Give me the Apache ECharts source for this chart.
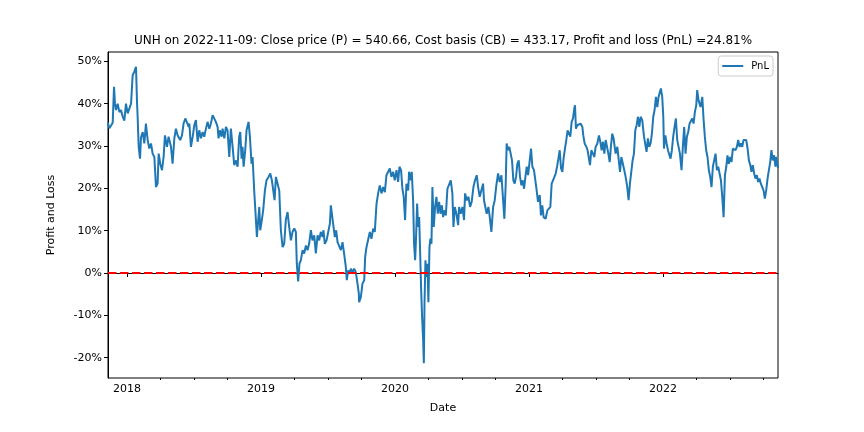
<!DOCTYPE html>
<html>
<head>
<meta charset="utf-8">
<script src="https://cdn.jsdelivr.net/npm/echarts@6/dist/echarts.min.js"></script>
<style>html,body{margin:0;padding:0;background:#fff}#c{width:864px;height:432px}</style>
</head>
<body>
<div id="c"></div>
<script>
// [decimal year, PnL %]
const seg1 = [[2017.856,35.6],[2017.868,34.2],[2017.880,34.8],[2017.893,35.5],[2017.903,44.0],[2017.910,40.0],[2017.918,38.5],[2017.930,40.0],[2017.943,38.0],[2017.955,38.5],[2017.967,37.0],[2017.980,36.0],[2017.992,40.0],[2018.005,37.7],[2018.017,38.0],[2018.030,40.0],[2018.042,46.7],[2018.054,47.5],[2018.067,48.7],[2018.074,40.8],[2018.079,37.0],[2018.087,29.8],[2018.097,27.0],[2018.104,32.0],[2018.117,33.3],[2018.129,30.6],[2018.141,35.3],[2018.154,31.4],[2018.166,29.4],[2018.179,30.6],[2018.191,28.2],[2018.204,27.4],[2018.216,20.3],[2018.228,21.1],[2018.236,28.2],[2018.248,25.8],[2018.261,24.3],[2018.273,27.4],[2018.283,32.5],[2018.298,29.8],[2018.310,32.2],[2018.328,29.8],[2018.340,25.8],[2018.353,31.8],[2018.365,34.1],[2018.378,32.5],[2018.397,31.4],[2018.410,32.5],[2018.422,35.3],[2018.435,36.5],[2018.447,36.1],[2018.460,34.5]];
const seg2 = [[2018.465,35.3],[2018.477,29.8],[2018.490,32.2],[2018.502,34.9],[2018.514,36.1],[2018.527,31.0],[2018.539,33.7],[2018.552,31.8],[2018.564,33.3],[2018.576,32.2],[2018.589,34.1],[2018.601,35.7],[2018.614,34.1],[2018.626,35.3],[2018.639,37.3],[2018.651,37.3],[2018.663,35.7],[2018.676,34.5],[2018.683,31.8],[2018.693,33.7],[2018.706,32.2],[2018.713,34.1],[2018.726,31.8],[2018.738,34.5],[2018.750,33.7],[2018.763,27.4],[2018.775,34.1],[2018.788,29.8],[2018.800,25.5],[2018.813,26.6],[2018.825,25.1],[2018.837,32.2],[2018.845,33.3],[2018.855,27.0],[2018.862,29.8],[2018.870,25.1],[2018.882,29.0],[2018.892,33.7],[2018.907,35.7],[2018.917,32.2],[2018.929,25.8],[2018.937,27.4],[2018.949,19.5],[2018.962,12.5],[2018.969,8.5],[2018.979,12.5],[2018.987,15.6],[2018.994,10.1],[2019.006,12.5],[2019.016,14.8],[2019.029,19.5],[2019.041,21.9],[2019.056,22.7],[2019.069,23.5],[2019.081,21.9],[2019.091,22.3],[2019.101,17.2],[2019.111,22.7]];
const seg3 = [[2019.123,22.7],[2019.136,19.5],[2019.148,10.1],[2019.161,6.1],[2019.173,6.9],[2019.185,12.5],[2019.198,14.4],[2019.210,10.9],[2019.223,7.7],[2019.235,9.7],[2019.248,10.5],[2019.260,9.7],[2019.267,2.2],[2019.277,-2.0],[2019.287,2.2],[2019.297,3.0],[2019.310,5.4],[2019.322,4.6],[2019.335,6.5],[2019.347,5.4],[2019.359,6.9],[2019.372,10.1],[2019.384,7.7],[2019.397,8.9],[2019.409,4.6],[2019.422,8.9],[2019.434,7.7],[2019.446,9.7],[2019.459,8.5],[2019.466,10.1],[2019.476,6.9],[2019.489,7.7],[2019.501,7.3],[2019.514,11.7],[2019.521,16.0],[2019.531,15.6],[2019.541,10.9],[2019.551,8.5],[2019.561,10.1],[2019.571,7.3],[2019.583,7.7],[2019.596,5.4],[2019.608,7.3],[2019.620,4.6],[2019.633,1.4],[2019.640,-1.7],[2019.650,0.6],[2019.660,-0.2],[2019.670,1.0],[2019.683,0.2],[2019.695,1.0],[2019.707,0.2],[2019.720,-2.5],[2019.730,-4.9]];
const seg4 = [[2019.732,-6.9],[2019.745,-5.7],[2019.757,-2.5],[2019.770,-1.7],[2019.777,3.8],[2019.787,6.1],[2019.799,5.8],[2019.812,9.7],[2019.824,8.1],[2019.837,10.5],[2019.849,9.7],[2019.862,16.4],[2019.874,18.8],[2019.886,20.7],[2019.899,18.8],[2019.911,20.3],[2019.924,19.1],[2019.936,23.1],[2019.949,23.9],[2019.961,24.7],[2019.973,22.7],[2019.986,23.9],[2019.998,21.9],[2020.011,24.3],[2020.023,21.5],[2020.033,25.1],[2020.045,24.3],[2020.055,19.9],[2020.065,18.0],[2020.075,12.5],[2020.085,21.1],[2020.098,19.5],[2020.105,23.9],[2020.118,21.9],[2020.125,23.9],[2020.135,17.2],[2020.142,6.9],[2020.150,3.0],[2020.157,8.5],[2020.165,16.4],[2020.172,10.9],[2020.180,13.2],[2020.187,5.4],[2020.195,-4.1],[2020.202,-10.4],[2020.210,-15.9],[2020.215,-21.3],[2020.220,-7.2],[2020.227,3.0],[2020.234,-0.9],[2020.242,2.2],[2020.249,-6.9],[2020.257,6.1],[2020.264,8.1],[2020.272,6.9],[2020.279,20.3],[2020.289,10.9],[2020.299,15.6],[2020.309,18.0],[2020.319,14.0],[2020.329,16.8],[2020.339,14.0],[2020.349,16.0],[2020.359,13.2]];
const seg5 = [[2020.366,14.8],[2020.379,13.6],[2020.391,19.9],[2020.403,20.3],[2020.416,21.9],[2020.428,18.8],[2020.436,10.9],[2020.446,15.6],[2020.458,14.0],[2020.471,11.3],[2020.478,15.6],[2020.490,14.0],[2020.503,15.6],[2020.515,12.5],[2020.523,18.8],[2020.535,17.2],[2020.548,18.0],[2020.560,15.6],[2020.572,16.8],[2020.585,20.3],[2020.597,21.9],[2020.610,23.1],[2020.620,20.3],[2020.632,18.0],[2020.645,18.4],[2020.657,21.1],[2020.664,17.2],[2020.677,17.6],[2020.684,14.0],[2020.697,15.6],[2020.707,13.2],[2020.719,9.7],[2020.732,15.6],[2020.744,17.2],[2020.756,20.7],[2020.769,23.5],[2020.781,21.5],[2020.794,23.1],[2020.806,22.7],[2020.816,12.8],[2020.826,21.1],[2020.833,30.6],[2020.843,29.0],[2020.853,29.8],[2020.863,30.2],[2020.873,26.6],[2020.883,21.9],[2020.893,21.1],[2020.903,22.7],[2020.913,25.8],[2020.923,26.6],[2020.933,22.7],[2020.943,20.7],[2020.953,21.9],[2020.963,19.9],[2020.973,22.7],[2020.983,25.1],[2020.993,23.1]];
const seg6 = [[2021.005,22.7],[2021.015,29.4],[2021.025,25.1],[2021.037,24.3],[2021.050,24.7],[2021.057,19.5],[2021.067,16.8],[2021.080,18.4],[2021.089,13.6],[2021.099,16.0],[2021.109,13.2],[2021.124,12.8],[2021.137,14.8],[2021.149,15.2],[2021.159,15.6],[2021.169,21.1],[2021.179,21.9],[2021.189,21.5],[2021.199,23.5],[2021.209,25.1],[2021.219,27.0],[2021.229,29.0],[2021.239,24.7],[2021.249,23.9],[2021.259,27.4],[2021.268,27.4],[2021.278,31.4],[2021.288,33.7],[2021.298,33.3],[2021.308,32.2],[2021.318,35.7],[2021.328,36.5],[2021.338,38.9],[2021.343,39.6],[2021.350,34.1],[2021.360,34.9],[2021.373,34.5],[2021.385,35.3],[2021.398,34.5],[2021.405,32.5],[2021.415,30.6],[2021.428,29.8],[2021.437,29.0],[2021.447,28.6],[2021.455,25.5],[2021.465,29.0],[2021.477,28.2],[2021.487,27.4],[2021.497,29.8],[2021.510,30.6],[2021.522,32.5],[2021.532,31.0],[2021.542,29.0],[2021.552,31.0],[2021.562,28.2],[2021.572,31.4],[2021.582,31.0],[2021.592,28.2],[2021.602,26.2],[2021.611,29.8],[2021.621,32.9],[2021.631,31.8]];
const seg7 = [[2021.646,28.2],[2021.659,29.8],[2021.671,29.4],[2021.679,23.9],[2021.689,27.4],[2021.698,27.8],[2021.708,24.7],[2021.721,22.7],[2021.733,20.3],[2021.743,17.2],[2021.753,21.1],[2021.763,21.5],[2021.773,26.6],[2021.783,28.2],[2021.793,33.7],[2021.803,34.9],[2021.813,36.9],[2021.823,34.5],[2021.833,36.9],[2021.845,36.1],[2021.858,32.2],[2021.867,32.2],[2021.877,28.6],[2021.887,31.8],[2021.897,29.8],[2021.907,30.6],[2021.917,32.9],[2021.927,36.9],[2021.937,38.5],[2021.947,41.6],[2021.957,39.2],[2021.967,41.6],[2021.977,42.8],[2021.984,43.6],[2021.994,41.6],[2022.002,36.9],[2022.007,29.4],[2022.017,32.5],[2022.027,30.6],[2022.037,29.0],[2022.046,29.4],[2022.056,27.0],[2022.066,29.0],[2022.076,32.2],[2022.086,34.5],[2022.096,36.5],[2022.106,31.4],[2022.116,29.8],[2022.126,28.2],[2022.138,24.3],[2022.148,29.8],[2022.158,34.5],[2022.168,28.2],[2022.178,32.2],[2022.188,33.3],[2022.198,35.3],[2022.208,34.9],[2022.218,36.5],[2022.228,35.3],[2022.238,38.1],[2022.248,39.6],[2022.255,43.2],[2022.265,40.8]];
const seg8 = [[2022.280,39.2],[2022.293,41.6],[2022.303,36.1],[2022.312,32.2],[2022.322,29.0],[2022.332,27.4],[2022.342,24.3],[2022.352,22.7],[2022.362,20.3],[2022.372,25.1],[2022.382,24.7],[2022.392,28.2],[2022.402,24.3],[2022.412,25.1],[2022.422,25.1],[2022.432,21.9],[2022.442,18.0],[2022.452,13.2],[2022.462,23.1],[2022.472,25.1],[2022.481,27.8],[2022.491,25.8],[2022.501,27.4],[2022.511,26.2],[2022.521,29.4],[2022.531,29.8],[2022.541,29.0],[2022.551,29.8],[2022.561,31.4],[2022.571,29.8],[2022.581,30.6],[2022.591,29.8],[2022.601,31.4],[2022.611,31.8],[2022.621,31.4],[2022.631,29.4],[2022.641,26.6],[2022.651,25.5],[2022.660,23.9],[2022.670,25.5],[2022.680,23.5],[2022.690,22.3],[2022.700,23.1],[2022.710,21.5],[2022.720,22.3],[2022.730,21.1],[2022.740,20.7],[2022.750,19.5],[2022.760,17.6],[2022.770,19.5],[2022.780,22.3],[2022.790,24.3],[2022.800,26.2],[2022.809,29.0],[2022.819,26.6],[2022.829,27.8],[2022.839,25.1],[2022.844,27.4],[2022.858,24.81]];

const yTickValues = [-20, -10, 0, 10, 20, 30, 40, 50];
const xTickYears = [2018, 2019, 2020, 2021, 2022];
const xMinorTicks = [2018.25, 2018.5, 2018.75, 2019.25, 2019.5, 2019.75, 2020.25, 2020.5, 2020.75, 2021.25, 2021.5, 2021.75, 2022.25, 2022.5, 2022.75];
const xStart = 2017.858; // 2017-11-09
const xEnd = 2022.858;   // 2022-11-09
const titleText = 'UNH on 2022-11-09: Close price (P) = 540.66, Cost basis (CB) = 433.17, Profit and loss (PnL) =24.81%';

const series = [].concat(seg1, seg2, seg3, seg4, seg5, seg6, seg7, seg8);

const font = 'DejaVu Sans';
const chart = echarts.init(document.getElementById('c'), null, {renderer: 'canvas'});
chart.setOption({
  animation: false,
  textStyle: {fontFamily: font},
  title: {
    text: titleText, left: 443, top: 35, padding: 0, textAlign: 'center',
    textStyle: {fontFamily: font, fontSize: 12, fontWeight: 'normal', color: '#000'}
  },
  grid: {left: 108, right: 86, top: 52, bottom: 54, show: true, borderColor: '#000', borderWidth: 1, backgroundColor: 'transparent'},
  legend: {
    right: 91, top: 56, padding: [5, 4, 5, 4], itemWidth: 21, itemHeight: 2, itemGap: 6,
    icon: 'rect', borderColor: '#cccccc', borderWidth: 1, borderRadius: 3, backgroundColor: '#fff',
    textStyle: {fontFamily: font, fontSize: 10, color: '#000', padding: [0, 0, 0, 3]},
    data: ['PnL']
  },
  xAxis: [{
    type: 'value', min: xStart, max: xEnd,
    name: 'Date', nameLocation: 'middle', nameGap: 25,
    nameTextStyle: {fontFamily: font, fontSize: 11, color: '#000'},
    axisLine: {show: true, lineStyle: {color: '#000', width: 1}},
    axisTick: {show: true, length: 4, customValues: xTickYears, lineStyle: {color: '#000'}},
    axisLabel: {customValues: xTickYears, formatter: v => String(Math.round(v)), fontFamily: font, fontSize: 11, color: '#000', margin: 6},
    splitLine: {show: false}
  }, {
    type: 'value', min: xStart, max: xEnd, position: 'bottom',
    axisLine: {show: false},
    axisTick: {show: true, length: 2, customValues: xMinorTicks, lineStyle: {color: '#000'}},
    axisLabel: {show: false},
    splitLine: {show: false}
  }],
  yAxis: {
    type: 'value', min: -24.8, max: 52.2,
    name: 'Profit and Loss', nameLocation: 'middle', nameGap: 51,
    nameTextStyle: {fontFamily: font, fontSize: 11, color: '#000'},
    axisLine: {show: true, lineStyle: {color: '#000', width: 1}},
    axisTick: {show: true, length: 4, customValues: yTickValues, lineStyle: {color: '#000'}},
    axisLabel: {customValues: yTickValues, formatter: v => v + '%', fontFamily: font, fontSize: 11, color: '#000', margin: 6},
    splitLine: {show: false}
  },
  series: [{
    name: 'PnL', type: 'line', data: series, showSymbol: false, symbol: 'none',
    xAxisIndex: 0,
    lineStyle: {color: '#1f77b4', width: 2}, itemStyle: {color: '#1f77b4'},
    markLine: {
      silent: true, symbol: 'none', label: {show: false},
      lineStyle: {color: '#ff0000', width: 2.2, type: [8.5, 3.5], cap: 'butt'},
      data: [{yAxis: 0}]
    }
  }]
});
</script>
</body>
</html>
